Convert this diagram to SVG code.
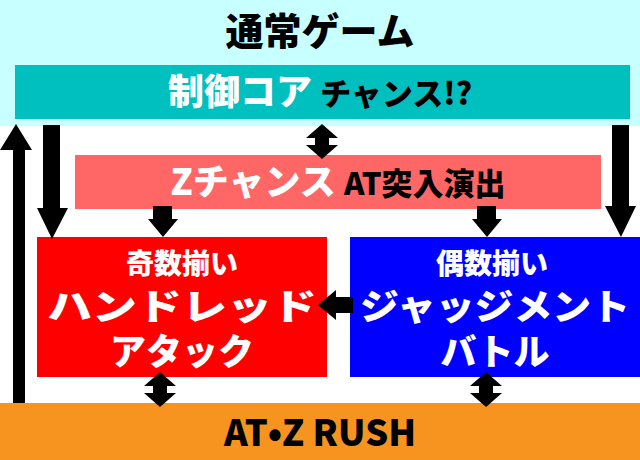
<svg xmlns="http://www.w3.org/2000/svg" width="640" height="460" viewBox="0 0 640 460">
<style>
.t{font-family:"Noto Sans CJK JP","Noto Sans",sans-serif;font-weight:900;text-anchor:middle}
.w{fill:#fff}.k{fill:#000}
</style>
<defs>
<path id="dbl" d="M0,0 L16,14 H7 V21 H16 L0,35 L-16,21 H-7 V14 H-16 Z"/>
</defs>
<rect width="640" height="460" fill="#fff"/>
<rect width="640" height="126" fill="#c8ffff"/>
<text class="t k" x="320" y="45" font-size="38">通常ゲーム</text>
<g id="core"><rect x="15" y="65" width="615" height="54" fill="#00bfbf"/>
<text class="t" x="320" y="105" font-size="36"><tspan class="w">制御コア </tspan><tspan class="k" font-size="31">チャンス!?</tspan></text></g>
<g id="zchance"><rect x="75" y="155" width="526" height="54" fill="#ff6666"/>
<text class="t" x="338" y="195" font-size="36"><tspan class="w">Zチャンス </tspan><tspan class="k" font-size="31">AT突入演出</tspan></text></g>
<g id="odd"><rect x="37" y="237" width="290" height="140" fill="#ff0000"/>
<text class="t w" x="182" y="274" font-size="28">奇数揃い</text>
<text class="t w" x="182" y="320" font-size="36" textLength="270" lengthAdjust="spacingAndGlyphs">ハンドレッド</text>
<text class="t w" x="182" y="365" font-size="36">アタック</text></g>
<g id="even"><rect x="350" y="237" width="290" height="140" fill="#0000ff"/>
<text class="t w" x="492" y="274" font-size="28">偶数揃い</text>
<text class="t w" x="495" y="320" font-size="36" textLength="270" lengthAdjust="spacingAndGlyphs">ジャッジメント</text>
<text class="t w" x="495" y="365" font-size="36">バトル</text></g>
<g id="rush"><rect x="0" y="403" width="640" height="57" fill="#f79420"/>
<text class="t k" x="320" y="446" font-size="36">AT•Z RUSH</text></g>
<g id="connectors" fill="#000">
<path d="M13,403 V150 H0 L16,124 L32,150 H25 V403 Z"/>
<path d="M43,125 V208 H37 L52,239 L68,208 H60 V125 Z"/>
<path d="M612,125 V206 H605 L621,237 L636,206 H629 V125 Z"/>
<path d="M153,206 V219 H148 L163,237 L178,219 H172 V206 Z"/>
<path d="M477,206 V219 H472 L487,237 L502,219 H496 V206 Z"/>
<use href="#dbl" transform="translate(322,124)"/>
<use href="#dbl" transform="translate(160,372)"/>
<use href="#dbl" transform="translate(486,372)"/>
<path d="M353,297 H336 V290 L318,305 L336,320 V313 H353 Z"/>
</g>
</svg>
